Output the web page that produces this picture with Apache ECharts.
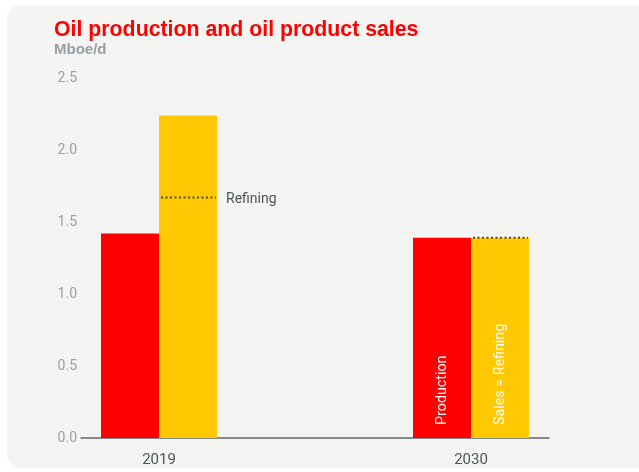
<!DOCTYPE html>
<html><head><meta charset="utf-8">
<script src="https://cdn.jsdelivr.net/npm/echarts@6/dist/echarts.min.js"></script>
<style>html,body{margin:0;padding:0;background:#fff;}#c{width:639px;height:472px;}</style>
</head><body><div id="c"></div>
<script>
const categories = ['2019', '', '2030'];
const production = [1.42, null, 1.39];
const sales = [2.24, null, 1.39];
const refining = [1.67, null, 1.39];
const refiningLabels = ['Refining', '', ''];
const barLabels = { production: 'Production', sales: 'Sales = Refining' };

const chart = echarts.init(document.getElementById('c'));
const BW = 58;
chart.setOption({
  animation: false,
  backgroundColor: '#ffffff',
  graphic: [{
    type: 'rect', z: -10, silent: true,
    shape: { x: 7, y: 5, width: 660, height: 463, r: 14 },
    style: { fill: '#f4f4f2' }
  }, {
    type: 'text', left: 54, top: 20,
    style: { text: 'Oil production and oil product sales', fill: '#ff0000', font: 'bold 21.3px "Liberation Sans", Arial, sans-serif' }
  }, {
    type: 'text', left: 54, top: 42,
    style: { text: 'Mboe/d', fill: '#959fa4', font: 'bold 15px "Liberation Sans", Arial, sans-serif' }
  }],
  grid: { left: 81, right: 90, top: 78, bottom: 34, containLabel: false },
  xAxis: {
    type: 'category', data: categories,
    axisLine: { lineStyle: { color: '#5f666a', width: 1.5 } },
    axisTick: { show: false },
    axisLabel: { color: '#4b5459', fontSize: 15, fontFamily: 'Roboto', margin: 15 }
  },
  yAxis: {
    type: 'value', min: 0, max: 2.5, interval: 0.5,
    splitLine: { show: false }, axisLine: { show: false }, axisTick: { show: false },
    axisLabel: { color: '#97a1a6', fontSize: 14, fontFamily: 'Roboto', margin: 4, formatter: v => v.toFixed(1) }
  },
  series: [{
    type: 'bar', data: production, barWidth: BW, barGap: '0%',
    itemStyle: { color: '#ff0000' },
    label: { show: true, position: 'insideBottom', rotate: 90, align: 'left', verticalAlign: 'middle', distance: 13,
      color: '#ffffff', fontSize: 14.3, fontFamily: 'Roboto',
      formatter: p => p.dataIndex === 2 ? barLabels.production : '' }
  }, {
    type: 'bar', data: sales, barWidth: BW, barGap: '0%',
    itemStyle: { color: '#ffc800' },
    label: { show: true, position: 'insideBottom', rotate: 90, align: 'left', verticalAlign: 'middle', distance: 13,
      color: '#ffffff', fontSize: 14.3, fontFamily: 'Roboto',
      formatter: p => p.dataIndex === 2 ? barLabels.sales : '' }
  }, {
    type: 'custom', z: 10,
    data: refining.map((v, i) => [i, v]),
    renderItem: (params, api) => {
      const v = api.value(1);
      if (v == null || isNaN(v)) return;
      const idx = api.value(0);
      const pt = api.coord([idx, v]);
      const x0 = pt[0] + 2, x1 = pt[0] + BW - 1;
      const children = [{
        type: 'line', shape: { x1: x0, y1: pt[1], x2: x1, y2: pt[1] },
        style: { stroke: '#444a4e', lineWidth: 2, lineDash: [2, 2.5] }
      }];
      const t = refiningLabels[idx];
      if (t) children.push({
        type: 'text', style: { text: t, x: x1 + 10, y: pt[1] + 2, fill: '#4b5459', font: '14px Roboto', verticalAlign: 'middle' }
      });
      return { type: 'group', children };
    }
  }]
});
</script></body></html>
